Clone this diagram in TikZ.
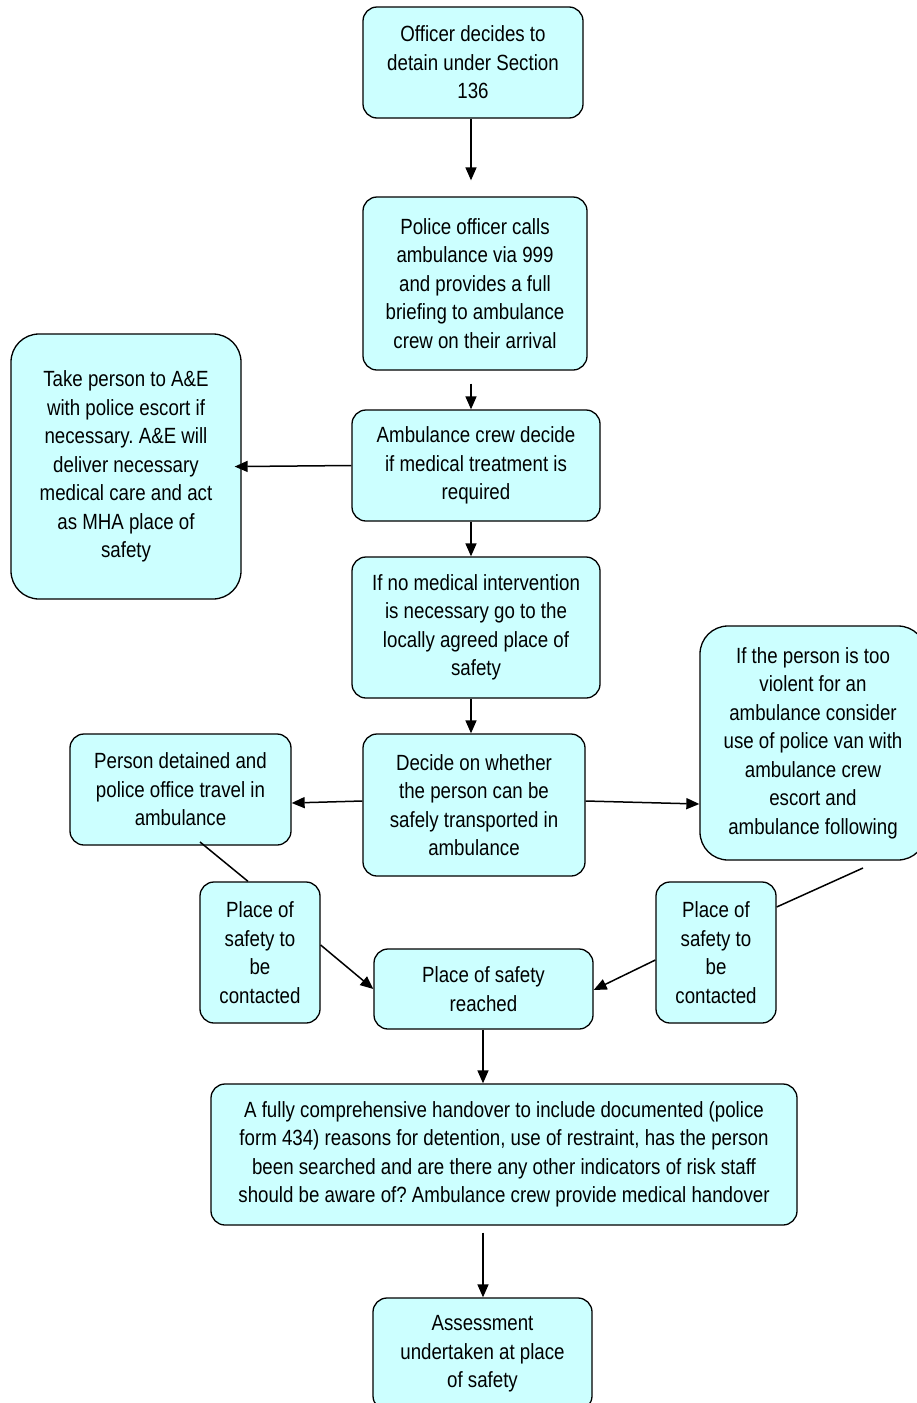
\documentclass[tikz,border=0pt]{standalone}
\usepackage{fontspec}
\setmainfont{Liberation Sans}[FakeStretch=0.85]
\usetikzlibrary{arrows.meta}
\definecolor{boxfill}{HTML}{CCFFFF}
\tikzset{
  box/.style={draw=black, line width=1.3pt, fill=boxfill, rounded corners=14pt,
    align=center, inner sep=0pt, font=\fontsize{22}{28.5}\selectfont},
  bigbox/.style={box, rounded corners=28pt},
  arr/.style={line width=1.5pt, -{Triangle[length=13pt,width=11pt]}},
  ln/.style={line width=1.5pt}
}
\frenchspacing
\begin{document}
\begin{tikzpicture}[x=1pt,y=-1pt]
\useasboundingbox (0,0) rectangle (917,1403);
\clip (0,0) rectangle (917,1403);
\node[box, minimum width=220pt, minimum height=111pt] (n1) at (473,62.5)
  {Officer decides to\\detain under Section\\136};
\node[box, minimum width=224pt, minimum height=173pt] (n2) at (475,283.5)
  {Police officer calls\\ambulance via 999\\and provides a full\\briefing to ambulance\\crew on their arrival};
\node[box, minimum width=248pt, minimum height=111pt] (n3) at (476,465.5)
  {Ambulance crew decide\\if medical treatment is\\required};
\node[bigbox, minimum width=230pt, minimum height=265pt] (n4) at (126,466.5)
  {Take person to A\&E\\with police escort if\\necessary. A\&E will\\deliver necessary\\medical care and act\\as MHA place of\\safety};
\node[box, minimum width=248pt, minimum height=141pt] (n5) at (476,627.5)
  {If no medical intervention\\is necessary go to the\\locally agreed place of\\safety};
\node[box, minimum width=222pt, minimum height=142pt] (n6) at (474,805)
  {Decide on whether\\the person can be\\safely transported in\\ambulance};
\node[box, minimum width=221pt, minimum height=111pt] (n7) at (180.5,789.5)
  {Person detained and\\police office travel in\\ambulance};
\node[bigbox, minimum width=226pt, minimum height=234pt] (n8) at (813,743)
  {If the person is too\\violent for an\\ambulance consider\\use of police van with\\ambulance crew\\escort and\\ambulance following};
\node[box, minimum width=120pt, minimum height=141pt] (n9) at (260,952.5)
  {Place of\\safety to\\be\\contacted};
\node[box, minimum width=120pt, minimum height=141pt] (n10) at (716,952.5)
  {Place of\\safety to\\be\\contacted};
\node[box, minimum width=219pt, minimum height=80pt] (n11) at (483.5,989)
  {Place of safety\\reached};
\node[box, minimum width=586pt, minimum height=141pt] (n12) at (504,1154.5)
  {A fully comprehensive handover to include documented (police\\form 434) reasons for detention, use of restraint, has the person\\been searched and are there any other indicators of risk staff\\should be aware of? Ambulance crew provide medical handover};
\node[box, minimum width=219pt, minimum height=112pt] (n13) at (482.5,1354)
  {Assessment\\undertaken at place\\of safety};
\coordinate (c7) at (200,842);
\coordinate (c8) at (863,868);
\draw[arr, shorten >=16pt] (n1.south -| 471,0) -- (n2.north -| 471,0);
\draw[arr, shorten <=13pt] (n2.south -| 471,0) -- (n3.north -| 471,0);
\draw[arr, shorten >=-7pt] (n3.west) -- (n4.east);
\draw[arr] (n3.south -| 471,0) -- (n5.north -| 471,0);
\draw[arr] (n5.south -| 471,0) -- (n6.north -| 471,0);
\draw[arr] (n6.west |- 0,801) -- (n7.east |- 0,803);
\draw[arr] (n6.east |- 0,801) -- (n8.west |- 0,804);
\draw[ln] (c7) -- (n9.north -| 248,0);
\draw[arr] (n9.east |- 0,945) -- (n11.west);
\draw[ln] (c8) -- (n10.east |- 0,907);
\draw[arr] (n10.west |- 0,960) -- (n11.east |- 0,990);
\draw[arr] (n11.south -| 483,0) -- (n12.north -| 483,0);
\draw[arr, shorten <=7pt] (n12.south -| 483,0) -- (n13.north -| 483,0);
\end{tikzpicture}
\end{document}
